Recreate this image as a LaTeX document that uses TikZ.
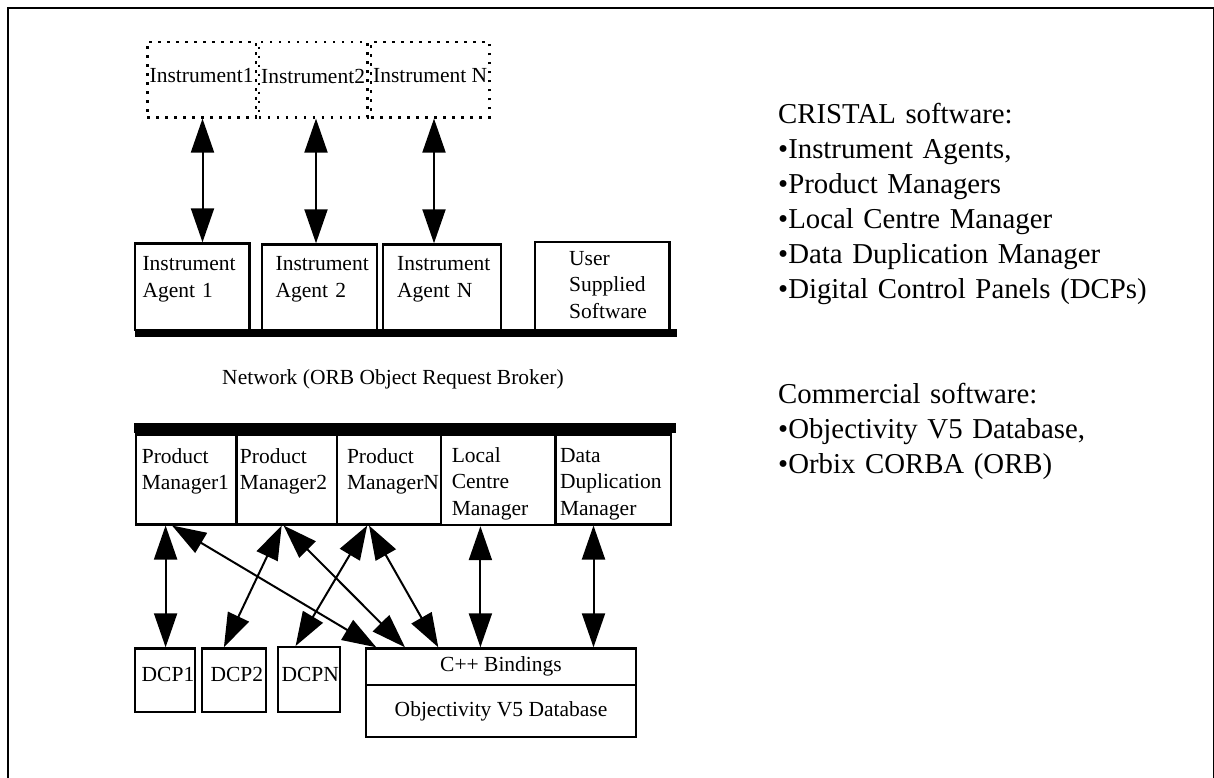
\documentclass[tikz,border=0pt]{standalone}
\usepackage{fontspec}
\setmainfont{Liberation Serif}
\usetikzlibrary{arrows.meta}
\newcommand{\boxfont}{\fontsize{21.5pt}{26.5pt}\selectfont}
\newcommand{\sidefont}{\fontsize{28.8pt}{35pt}\selectfont}

\begin{document}
\begin{tikzpicture}[x=1pt, y=-1pt,
  dotbox/.style={draw, line width=2.6pt, dash pattern=on 2.6pt off 6.4pt,
    anchor=north west, minimum height=75.3, inner sep=0pt, text depth=7.5pt, font=\boxfont},
  swbox/.style={draw, line width=2.2pt, anchor=north west, inner sep=0pt},
  boxtext/.style={anchor=base west, inner sep=0pt, text width=130pt,
    align=left, font=\boxfont},
  sidetext/.style={anchor=base west, inner sep=0pt, text width=440pt,
    align=left, font=\sidefont},
  dbl/.style={{Triangle[length=34pt,width=23pt]}-{Triangle[length=34pt,width=23pt]},
    line width=2pt}]
  \useasboundingbox (0,0) rectangle (1214,778);
  \draw[line width=2.5pt] (7.8,800) -- (7.8,7.8) -- (1214.3,7.8) -- (1214.3,800);

  % instruments and their agents
  \foreach \n/\x/\w/\t in {in1/146/108.6/Instrument1, in2/257.5/108.5/Instrument2, in3/369.8/118.2/Instrument N}
    \node[dotbox, minimum width=\w] (\n) at (\x,40.7) {\t};
  \foreach \n/\x/\y/\w/\h in {ia1/133.8/242.3/114.5/86.7, ia2/260.5/243.3/115.3/85.7,
      ia3/382/243.3/118/85.7, usr/533.8/240.7/134.5/88.3}
    \node[swbox, minimum width=\w, minimum height=\h] (\n) at (\x,\y) {};
  \node[boxtext] (ia1 text) at (142.3,270.7) {Instrument\\Agent 1};
  \node[boxtext] (ia2 text) at (275.4,270.7) {Instrument\\Agent 2};
  \node[boxtext] (ia3 text) at (397,270.7) {Instrument\\Agent N};
  \node[boxtext] (usr text) at (569,265) {User\\Supplied\\Software};
  \foreach \a/\b/\x in {in1/ia1/202.5, in2/ia2/316, in3/ia3/434}
    \draw[dbl] (\a.south -| \x,0) -- (\b.north -| \x,0);
  \draw[line width=8.3pt] (134.9,333) -- (676.5,333);

  \node[anchor=base, font=\boxfont] (orb) at (393,384) {Network (ORB Object Request Broker)};

  % managers
  \draw[line width=10pt] (134,428.3) -- (675.8,428.3);
  \foreach \n/\x/\w/\h in {pm1/134.9/99.6/90, pm2/236/99.6/90, pmn/335.6/104.1/90,
      lcm/439.7/114.5/90.7, ddm/554.9/114.6/90}
    \node[swbox, minimum width=\w, minimum height=\h] (\n) at (\x,433.3) {};
  \node[boxtext] (pm1 text) at (141.6,463.3) {Product\\Manager1};
  \node[boxtext] (pm2 text) at (239.7,463.3) {Product\\Manager2};
  \node[boxtext] (pmn text) at (346.8,463.3) {Product\\ManagerN};
  \node[boxtext] (lcm text) at (451.6,462) {Local\\Centre\\Manager};
  \node[boxtext] (ddm text) at (559.8,462) {Data\\Duplication\\Manager};

  % panels and database
  \foreach \n/\x/\y/\w/\h in {dcp1/133.6/647.3/60.6/63.4, dcp2/200.6/647.3/64.6/63.4, dcpn/276.6/646/62/64.7}
    \node[swbox, minimum width=\w, minimum height=\h] (\n) at (\x,\y) {};
  \node[boxtext] (dcp1 text) at (141.5,681.7) {DCP1};
  \node[boxtext] (dcp2 text) at (210.3,681.7) {DCP2};
  \node[boxtext] (dcpn text) at (281.3,681.7) {DCPN};
  \node[swbox, minimum width=270.2, minimum height=36.7, font=\boxfont] (cpp) at (364.8,647.3) {C++ Bindings};
  \node[swbox, minimum width=270.2, minimum height=52, font=\boxfont] (objy) at (364.8,684) {Objectivity V5 Database};
  \foreach \a/\xa/\b/\xb in {pm1/165.6/dcp1/165.6, pm1/172/cpp/376.3, pm2/281.7/dcp2/223.9,
      pm2/283.6/cpp/405, pmn/367.2/dcpn/295.6, pmn/369/cpp/438.3, lcm/480.4/cpp/480.4, ddm/593.5/cpp/593.5}
    \draw[dbl] (\a.south -| \xa,0) -- (\b.north -| \xb,0);

  % legend
  \node[sidetext] (cristal) at (778,124) {CRISTAL software:\\•Instrument Agents,\\•Product Managers\\•Local Centre Manager\\•Data Duplication Manager\\•Digital Control Panels (DCPs)};
  \node[sidetext] (commercial) at (778,403) {Commercial software:\\•Objectivity V5 Database,\\•Orbix CORBA (ORB)};
\end{tikzpicture}
\end{document}
